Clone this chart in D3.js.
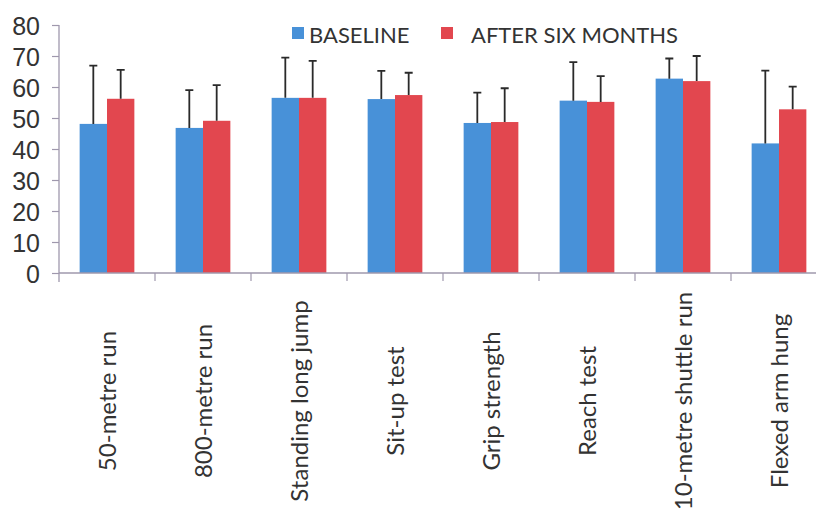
<!DOCTYPE html>
<html><head><meta charset="utf-8">
<script src="https://cdn.jsdelivr.net/npm/d3@7"></script>
<style>html,body{margin:0;padding:0;background:#fff;overflow:hidden}</style>
</head><body>
<svg id="c" width="816" height="512"></svg>
<script>
const categories = ["50-metre run","800-metre run","Standing long jump","Sit-up test","Grip strength","Reach test","10-metre shuttle run","Flexed arm hung"];
const seriesNames = ["BASELINE","AFTER SIX MONTHS"];
const baselineMean = [48.1, 46.8, 56.5, 56.1, 48.4, 55.6, 62.7, 41.8];
const baselineSD   = [18.8, 12.2, 13.0,  9.1,  9.8, 12.4,  6.5, 23.5];
const afterMean    = [56.2, 49.1, 56.5, 57.4, 48.7, 55.2, 61.9, 52.8];
const afterSD      = [ 9.3, 11.5, 11.9,  7.2, 10.9,  8.3,  8.1,  7.3];
const yTicks = [0,10,20,30,40,50,60,70,80];
const colors = ["#4891d8","#e2474f"];

const svg = d3.select("#c");
const x0 = d3.scaleBand().domain(categories).range([59, 827]).paddingInner(0.43).paddingOuter(0.215);
const step = x0.step();
const x1 = d3.scaleBand().domain(seriesNames).range([0, x0.bandwidth()]);
const y = d3.scaleLinear().domain([0, 80]).range([273, 25]);

const data = categories.map((c,i)=>({cat:c, vals:[
  {s:seriesNames[0], m:baselineMean[i], sd:baselineSD[i]},
  {s:seriesNames[1], m:afterMean[i], sd:afterSD[i]}]}));

// bars
const g = svg.append("g");
const groups = g.selectAll("g.grp").data(data).join("g")
  .attr("transform", d=>`translate(${x0(d.cat)},0)`);
groups.selectAll("rect").data(d=>d.vals).join("rect")
  .attr("x", d=>x1(d.s)).attr("width", x1.bandwidth())
  .attr("y", d=>y(d.m)).attr("height", d=>y(0)-y(d.m))
  .attr("fill", (d,i)=>colors[i]);
// error bars (upper only)
groups.selectAll("path.err").data(d=>d.vals).join("path").attr("class","err")
  .attr("d", d=>{const cx = x1(d.s)+x1.bandwidth()/2; const yt=y(d.m+d.sd);
    return `M${cx},${y(d.m)}V${yt}M${cx-4},${yt}H${cx+4}`;})
  .attr("stroke","#2a2a2a").attr("stroke-width",1.8).attr("fill","none");

// y axis
const yAxis = svg.append("g").attr("transform","translate(59,0)")
  .call(d3.axisLeft(y).tickValues(yTicks).tickSize(7).tickPadding(12));
yAxis.select(".domain").attr("stroke","#9f98ad").attr("stroke-width",1.3).attr("d","M0,25V282");
yAxis.selectAll(".tick line").attr("stroke","#9f98ad").attr("stroke-width",1.2);
yAxis.selectAll(".tick text").attr("font-family","Liberation Sans, Arial, sans-serif")
  .attr("font-size",25).attr("fill","#333").attr("dy","0.36em");

// x axis
const xAxis = svg.append("g").attr("transform","translate(0,273)");
xAxis.append("line").attr("x1",59).attr("x2",827).attr("stroke","#9f98ad").attr("stroke-width",1.3);
xAxis.selectAll("line.tk").data(categories).join("line").attr("class","tk")
  .attr("x1", d=>x0(d)-x0.paddingOuter()*step+step).attr("x2", d=>x0(d)-x0.paddingOuter()*step+step)
  .attr("y1",0).attr("y2",8).attr("stroke","#9f98ad").attr("stroke-width",1.2);
xAxis.selectAll("text").data(categories).join("text")
  .attr("transform", d=>`translate(${x0(d)+x0.bandwidth()/2+9},128) rotate(-90)`)
  .attr("text-anchor","middle")
  .attr("font-family","Lato, sans-serif").attr("font-size",24).attr("fill","#333")
  .text(d=>d);

// legend
const legX = [292, 441], legT = [309, 471];
const leg = svg.append("g");
seriesNames.forEach((s,i)=>{
  leg.append("rect").attr("x",legX[i]).attr("y",27).attr("width",12).attr("height",12).attr("fill",colors[i]);
  leg.append("text").attr("x",legT[i]).attr("y",43).attr("font-family","Lato, sans-serif")
    .attr("font-size",22).attr("fill","#333").text(s);
});
</script>
</body></html>
